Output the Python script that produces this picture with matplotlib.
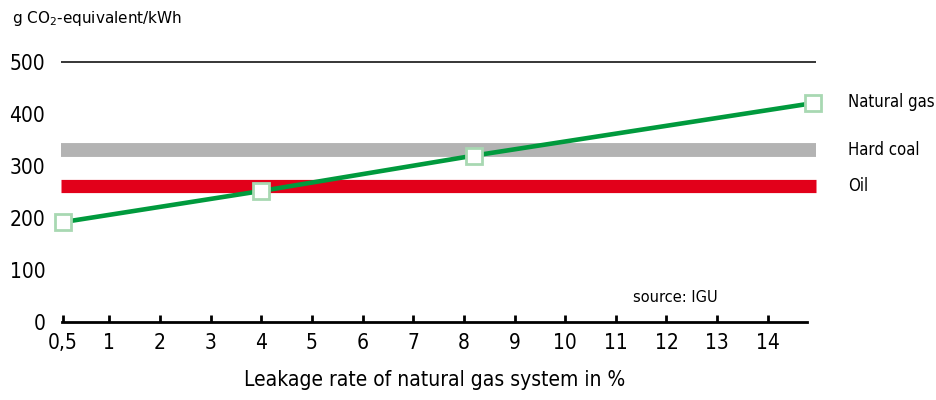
import numpy as np
import matplotlib
matplotlib.use("Agg")
import matplotlib.pyplot as plt
from matplotlib.transforms import blended_transform_factory

# data
leakage = [0.5, 4.0, 8.2, 14.9]          # leakage rate in %
gas_co2 = [192, 252, 320, 421]            # g CO2-eq/kWh for natural gas
coal_co2 = 331
oil_co2 = 262
x_ticks = [0.5, 1, 2, 3, 4, 5, 6, 7, 8, 9, 10, 11, 12, 13, 14]
x_labels = ["0,5"] + [str(t) for t in x_ticks[1:]]
y_ticks = [0, 100, 200, 300, 400, 500]

plt.rcParams['font.family'] = ['DejaVu Sans']
plt.rcParams['font.stretch'] = 'condensed'
plt.rcParams['mathtext.default'] = 'regular'

# the first half-percent is squeezed so 0,5 sits at the axis origin
SQ = 1.84
def fwd(x):
    x = np.asarray(x, dtype=float)
    return np.where(x < 1, 1 - (1 - x) * SQ, x)
def inv(y):
    y = np.asarray(y, dtype=float)
    return np.where(y < 1, 1 - (1 - y) / SQ, y)

fig = plt.figure(figsize=(9.37, 4.0), dpi=100)
ax = fig.add_axes([0.066, 0.195, 0.795, 0.65])
ax.set_xscale('function', functions=(fwd, inv))
ax.set_xlim(0.49, 14.77)
ax.set_ylim(0, 500)

x0, x1 = leakage[0] - 0.02, leakage[-1] + 0.05
ax.hlines(coal_co2, x0, x1, color='#b3b3b3', lw=10, clip_on=False, zorder=2)
ax.hlines(oil_co2, x0, x1, color='#e2001a', lw=9.5, clip_on=False, zorder=2)
ax.hlines(500, x0, x1, color='black', lw=1.1, clip_on=False, zorder=2)
ax.plot(leakage, gas_co2, color='#009a3d', lw=3.3, marker='s', ms=12,
        mfc='white', mec='#a8d8b2', mew=2, clip_on=False, zorder=3)

for side in ['top', 'right', 'left']:
    ax.spines[side].set_visible(False)
ax.spines['bottom'].set_linewidth(2)

ax.set_xticks(x_ticks)
ax.set_xticklabels(x_labels, fontsize=15)
ax.tick_params(axis='x', direction='in', length=5, width=2, pad=8)
ax.set_yticks(y_ticks)
ax.set_yticklabels([str(v) for v in y_ticks], fontsize=15)
ax.tick_params(axis='y', length=0, pad=12)
ax.minorticks_off()

ax.set_xlabel("Leakage rate of natural gas system in %", fontsize=15, labelpad=12)
fig.text(0.013, 0.955, "g CO$_2$-equivalent/kWh", fontsize=11, stretch='normal',
         va='center', ha='left')

lab_tr = blended_transform_factory(fig.transFigure, ax.transData)
for txt, val in [("Natural gas", gas_co2[-1] + 3), ("Hard coal", coal_co2), ("Oil", oil_co2)]:
    ax.text(848 / 937, val, txt, fontsize=12, va='center', ha='left', transform=lab_tr)
fig.text(675 / 937, 1 - 297 / 400, "source: IGU", fontsize=10.5, stretch='normal',
         ha='center', va='center')

fig.savefig("out.png", dpi=100)
